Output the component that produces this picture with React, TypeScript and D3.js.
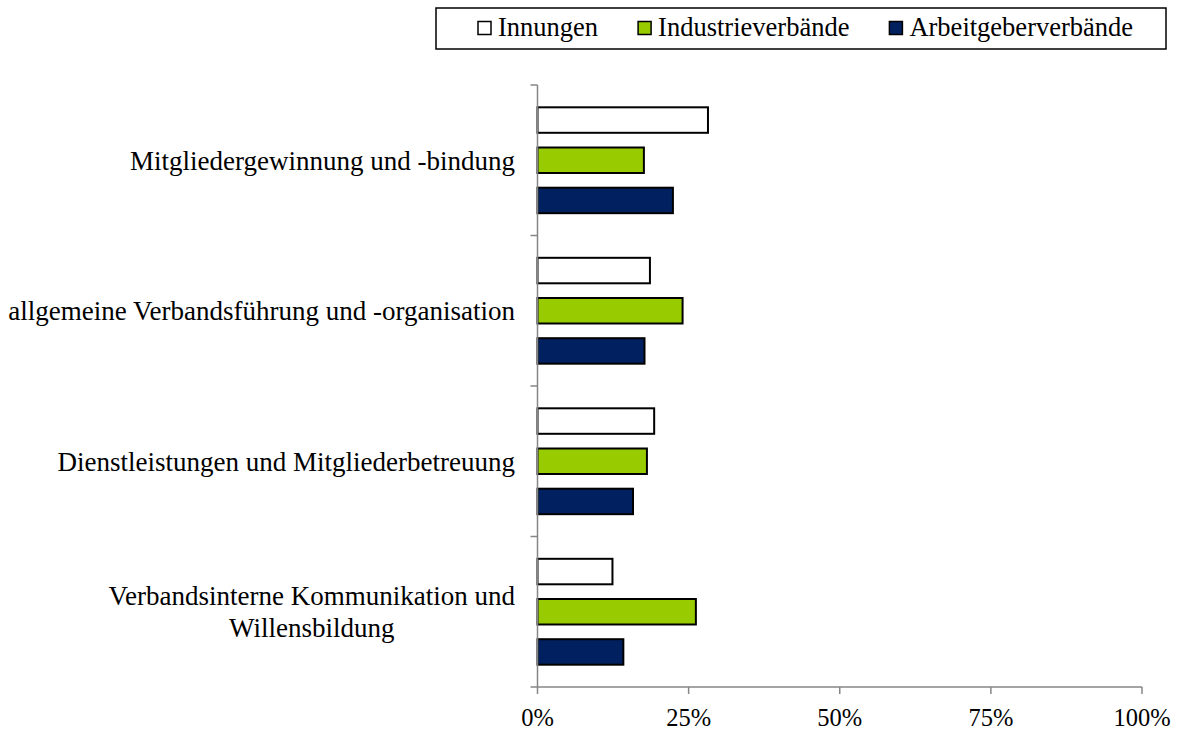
// @ts-nocheck
import React, { useEffect, useRef } from "react";
import * as d3 from "d3";

const categories = [
  ["Mitgliedergewinnung und -bindung"],
  ["allgemeine Verbandsführung und -organisation"],
  ["Dienstleistungen und Mitgliederbetreuung"],
  ["Verbandsinterne Kommunikation und", "Willensbildung"],
];
const seriesNames = ["Innungen", "Industrieverbände", "Arbeitgeberverbände"];
const seriesColors = ["#ffffff", "#99cc00", "#002060"];
const innungen = [28.2, 18.6, 19.3, 12.4];
const industrie = [17.6, 24.0, 18.1, 26.2];
const arbeitgeber = [22.4, 17.7, 15.8, 14.2];
const xTicks = [0, 25, 50, 75, 100];

const FONT = "'Liberation Serif', 'Times New Roman', serif";

function App() {
  const ref = useRef(null);

  useEffect(() => {
    document.body.style.margin = "0";
    const svg = d3.select(ref.current);
    svg.selectAll("*").remove();

    const margin = { top: 85, left: 537.5 };

    var x = d3.scaleLinear().domain([0, 100]).range([margin.left, 1142]);
    var y = d3
      .scaleBand()
      .domain(d3.range(categories.length))
      .range([margin.top, 687]);
    var ySub = d3
      .scaleBand()
      .domain(d3.range(seriesNames.length))
      .range([0, y.bandwidth()])
      .paddingInner(0.366)
      .paddingOuter(0.555);

    const series = [innungen, industrie, arbeitgeber];
    const rows = [];
    series.forEach((vals, s) => {
      vals.forEach((v, c) => rows.push({ s, c, v }));
    });

    // bars
    svg
      .append("g")
      .selectAll("rect")
      .data(rows)
      .enter()
      .append("rect")
      .attr("x", x(0))
      .attr("y", (d) => y(d.c) + ySub(d.s))
      .attr("width", (d) => x(d.v) - x(0))
      .attr("height", ySub.bandwidth())
      .attr("fill", (d) => seriesColors[d.s])
      .attr("stroke", "#000")
      .attr("stroke-width", 2);

    // y axis line + ticks at category boundaries
    const axisColor = "#868686";
    const gy = svg.append("g");
    gy.append("line")
      .attr("x1", x(0)).attr("x2", x(0))
      .attr("y1", margin.top).attr("y2", 687)
      .attr("stroke", axisColor).attr("stroke-width", 1.5);
    const bounds = d3.range(categories.length + 1).map((i) =>
      i < categories.length ? y(i) : y(categories.length - 1) + y.bandwidth()
    );
    gy.selectAll(".tk")
      .data(bounds)
      .enter()
      .append("line")
      .attr("x1", x(0) - 7).attr("x2", x(0))
      .attr("y1", (d) => d).attr("y2", (d) => d)
      .attr("stroke", axisColor).attr("stroke-width", 1.5);

    // x axis
    const gx = svg.append("g");
    gx.append("line")
      .attr("x1", x(0)).attr("x2", x(100))
      .attr("y1", 687).attr("y2", 687)
      .attr("stroke", axisColor).attr("stroke-width", 1.5);
    gx.selectAll(".xt")
      .data(xTicks)
      .enter()
      .append("line")
      .attr("x1", (d) => x(d)).attr("x2", (d) => x(d))
      .attr("y1", 687).attr("y2", 694)
      .attr("stroke", axisColor).attr("stroke-width", 1.5);
    gx.selectAll("text")
      .data(xTicks)
      .enter()
      .append("text")
      .attr("x", (d) => x(d))
      .attr("y", 726)
      .attr("text-anchor", "middle")
      .style("font-family", FONT)
      .style("font-size", "24.5px")
      .attr("fill", "#000")
      .text((d) => d + "%");

    // category labels, right-aligned block, lines centred
    const labelRight = 515;
    const lineH = 32;
    categories.forEach((lines, i) => {
      const cy = y(i) + y.bandwidth() / 2;
      const g = svg.append("g");
      const texts = lines.map((ln, k) =>
        g
          .append("text")
          .attr("y", cy + (k - (lines.length - 1) / 2) * lineH)
          .attr("dy", "0.35em")
          .attr("text-anchor", "middle")
          .style("font-family", FONT)
          .style("font-size", "27px")
          .attr("fill", "#000")
          .text(ln)
      );
      const maxW = d3.max(texts, (t) => t.node().getComputedTextLength());
      texts.forEach((t) => t.attr("x", labelRight - maxW / 2));
    });

    // legend
    const lg = svg.append("g");
    lg.append("rect")
      .attr("x", 436).attr("y", 8)
      .attr("width", 1166 - 436).attr("height", 41)
      .attr("fill", "#fff")
      .attr("stroke", "#000")
      .attr("stroke-width", 1.5);
    let cx = 478;
    seriesNames.forEach((name, i) => {
      lg.append("rect")
        .attr("x", cx).attr("y", 21.5)
        .attr("width", 13).attr("height", 13)
        .attr("fill", seriesColors[i])
        .attr("stroke", "#000")
        .attr("stroke-width", 1.5);
      const t = lg
        .append("text")
        .attr("x", cx + 20)
        .attr("y", 36)
        .style("font-family", FONT)
        .style("font-size", "26.5px")
        .attr("fill", "#000")
        .text(name);
      cx = cx + 20 + t.node().getComputedTextLength() + 40;
    });
  }, []);

  return (
    <div>
      <svg ref={ref} width={1178} height={731} style={{ display: "block" }}></svg>
    </div>
  );
}

export default App;
